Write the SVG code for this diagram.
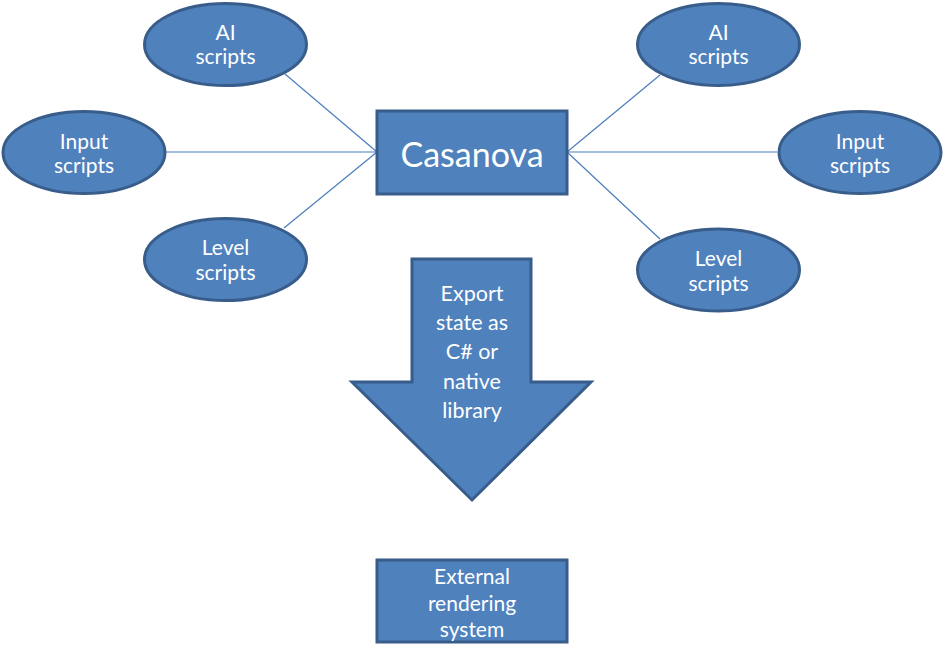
<svg xmlns="http://www.w3.org/2000/svg" width="944" height="648" viewBox="0 0 944 648">
<style>
.n{fill:#4F81BD;stroke:#385D8A;stroke-width:3}
.c line{stroke:#4A7EBB;stroke-width:1.2}
text{font-family:Lato,"Open Sans","Liberation Sans",sans-serif;fill:#FFFFFF;text-anchor:middle}
.s{font-size:21px}
.m{font-size:21.5px}
.b{font-size:34px}
</style>
<rect width="944" height="648" fill="#FFFFFF"/>
<g class="c" id="connectors">
<line x1="377" y1="152" x2="285" y2="74"/>
<line x1="377" y1="152" x2="166" y2="152"/>
<line x1="377" y1="152" x2="284" y2="228"/>
<line x1="567" y1="152" x2="660" y2="75"/>
<line x1="567" y1="152" x2="777" y2="152"/>
<line x1="567" y1="152" x2="660" y2="239"/>
</g>
<g id="ai-left"><ellipse class="n" cx="225.5" cy="44.5" rx="81" ry="41"/><text class="s" x="225.5" y="40">AI</text><text class="s" x="225.5" y="64">scripts</text></g>
<g id="input-left"><ellipse class="n" cx="84" cy="152.5" rx="81" ry="41"/><text class="s" x="84" y="149">Input</text><text class="s" x="84" y="173">scripts</text></g>
<g id="level-left"><ellipse class="n" cx="225.5" cy="259.5" rx="81" ry="41"/><text class="s" x="225.5" y="255">Level</text><text class="s" x="225.5" y="280">scripts</text></g>
<g id="ai-right"><ellipse class="n" cx="718.5" cy="44.5" rx="81" ry="41"/><text class="s" x="718.5" y="40">AI</text><text class="s" x="718.5" y="64">scripts</text></g>
<g id="input-right"><ellipse class="n" cx="860" cy="152.5" rx="81" ry="41"/><text class="s" x="860" y="149">Input</text><text class="s" x="860" y="173">scripts</text></g>
<g id="level-right"><ellipse class="n" cx="718.5" cy="270" rx="81" ry="41"/><text class="s" x="718.5" y="266">Level</text><text class="s" x="718.5" y="291">scripts</text></g>
<g id="casanova"><rect class="n" x="377" y="111" width="190" height="83"/><text class="b" x="472" y="167">Casanova</text></g>
<g id="export-arrow"><polygon class="n" points="412,259 531,259 531,382 591,382 472,500 352,382 412,382"/>
<text class="m" x="472" y="301">Export</text><text class="m" x="472" y="330">state as</text><text class="m" x="472" y="359">C# or</text><text class="m" x="472" y="389">native</text><text class="m" x="472" y="418">library</text></g>
<g id="external"><rect class="n" x="377" y="560" width="190" height="82"/><text class="s" x="472" y="584">External</text><text class="s" x="472" y="611">rendering</text><text class="s" x="472" y="637">system</text></g>
</svg>
